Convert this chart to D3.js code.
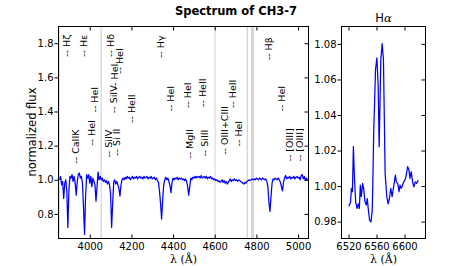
<!DOCTYPE html>
<html>
<head>
<meta charset="utf-8">
<script src="https://cdn.jsdelivr.net/npm/d3@7"></script>
<style>
	body { margin: 0; background: #fff; }
	svg { display: block; font-family: "DejaVu Sans", sans-serif; }
</style>
</head>
<body>
<svg id="chart" width="472" height="266"></svg>
<script>
// spectrum sampled every 5 A starting at 3855 A
const waveStart = 3855;
const waveStep = 5;
const flux = [
	1.00, 1.02, 0.97, 0.99, 0.89, 0.98, 1.00, 0.93, 0.72, 0.94, // 3855
	1.02, 1.01, 1.03, 0.99, 1.02, 0.98, 0.91, 0.99, 1.03, 1.04, // 3905
	1.01, 1.02, 0.98, 0.84, 0.68, 0.90, 1.03, 1.01, 1.03, 0.98, // 3955
	1.02, 0.96, 1.01, 0.99, 0.97, 0.875, 0.96, 1.045, 1.00, 1.02, // 4005
	1.00, 1.01, 0.99, 1.00, 0.985, 0.995, 0.975, 0.99, 0.97, 0.92, // 4055
	0.72, 0.86, 0.985, 1.00, 0.975, 0.99, 0.97, 0.95, 0.905, 0.97, // 4105
	1.00, 1.01, 1.00, 1.015, 1.005, 1.02, 1.01, 1.015, 1.00, 1.01, // 4155
	1.02, 1.005, 1.015, 1.01, 1.02, 1.005, 1.015, 1.02, 1.01, 1.015, // 4205
	1.005, 1.02, 1.01, 1.015, 1.02, 1.005, 1.015, 1.01, 1.02, 1.005, // 4255
	1.01, 1.015, 1.00, 1.01, 0.995, 0.985, 0.93, 0.86, 0.77, 0.88, // 4305
	0.97, 1.00, 1.015, 1.00, 1.01, 0.99, 0.965, 0.925, 0.985, 1.01, // 4355
	1.00, 1.01, 1.005, 1.015, 1.00, 1.01, 1.005, 1.01, 1.00, 1.005, // 4405
	0.995, 1.005, 0.99, 0.96, 0.91, 0.96, 1.01, 1.00, 1.015, 1.01, // 4455
	1.02, 1.01, 1.02, 1.015, 1.02, 1.01, 1.025, 1.01, 1.015, 1.02, // 4505
	1.01, 1.02, 1.005, 1.015, 1.01, 1.02, 1.005, 1.01, 1.00, 1.005, // 4555
	0.995, 1.00, 0.99, 0.995, 0.985, 0.99, 1.00, 0.985, 0.995, 0.98, // 4605
	0.99, 0.975, 0.985, 0.995, 1.005, 0.99, 1.00, 0.995, 1.005, 0.995, // 4655
	1.00, 0.99, 1.00, 0.995, 0.99, 0.985, 0.98, 0.975, 0.985, 0.98, // 4705
	0.99, 0.995, 1.00, 0.995, 1.00, 1.005, 1.00, 1.005, 1.00, 1.01, // 4755
	1.005, 1.00, 1.01, 1.005, 1.00, 1.01, 1.005, 1.00, 1.005, 0.99, // 4805
	0.96, 0.87, 0.815, 0.90, 0.98, 1.005, 1.00, 1.01, 1.005, 1.00, // 4855
	1.01, 1.00, 0.985, 0.96, 0.935, 0.985, 1.01, 1.025, 1.005, 1.015, // 4905
	1.01, 1.02, 1.005, 1.015, 1.01, 1.02, 1.005, 1.015, 1.02, 1.01, // 4955
	1.015, 1.00, 1.025, 1.03, 1.005, 1.02, 0.995, 1.01, 1.00 // 5005
];

// H-alpha zoom
const haWave = [6520.3, 6522.8, 6524.2, 6525.6, 6527.0, 6528.4, 6530.3, 6532.2, 6534.1, 6535.5,
	6536.9, 6538.3, 6540.2, 6541.6, 6543.6, 6545.4, 6546.8, 6548.3, 6550.1, 6552.1,
	6553.9, 6554.9, 6556.0, 6557.5, 6558.6, 6560.6, 6562.4, 6563.8, 6566.2, 6568.1,
	6569.9, 6571.3, 6572.3, 6574.7, 6576.6, 6578.4, 6580.4, 6582.3, 6583.7, 6585.5,
	6587.0, 6588.3, 6590.3, 6592.2, 6593.6, 6595.0, 6596.8, 6598.8, 6600.7, 6602.5,
	6604.5, 6606.3, 6607.8, 6609.6, 6611.6, 6613.4, 6615.3, 6617.3, 6619.5];
const haFlux = [0.9887, 0.9906, 0.9987, 0.9968, 1.0222, 1.0053, 0.991, 0.9874, 0.990, 0.9874,
	1.0006, 0.994, 1.0015, 0.9987, 0.991, 0.9893, 0.993, 0.9868, 0.9808, 0.9798,
	0.9864, 1.005, 1.030, 1.050, 1.0655, 1.0722, 1.0561, 1.0222, 1.0712, 1.0802,
	1.0712, 1.035, 1.0072, 0.994, 0.990, 0.993, 0.9987, 0.994, 0.9977, 1.0024,
	1.0062, 1.0024, 1.0015, 0.9968, 1.0006, 0.9987, 1.0, 1.0024, 1.0034, 1.0062,
	1.0109, 1.009, 1.0044, 1.0081, 1.0024, 0.9996, 1.0024, 1.0015, 1.0034];

// masked (grey) regions
const maskLo = [3850, 4052, 4599, 4753, 4774];
const maskHi = [3856, 4058, 4604, 4760, 4789];

// line identifications
const lineNames = ["H\u03b6", "H\u03b5", "CaIIK", "HeI", "HeI", "SiIV", "Si II", "H\u03b4", "SiIV", "HeI",
	"HeI", "HeII", "H\u03b3", "HeI", "HeI", "MgII", "HeII", "SiIII", "OIII+CIII", "HeII",
	"HeI", "H\u03b2", "HeI", "[OIII]", "[OIII]"];
const lineWaves = [3889, 3970, 3934, 4009, 4026, 4089, 4131, 4102, 4116, 4121,
	4143, 4200, 4340, 4388, 4471, 4481, 4542, 4552, 4650, 4686,
	4713, 4861, 4922, 4959, 5007];
const lineLevels = [1.72, 1.72, 1.094, 1.199, 1.394, 1.13, 1.14, 1.72, 1.39, 1.53,
	1.62, 1.333, 1.713, 1.40, 1.42, 1.123, 1.427, 1.136, 1.146, 1.42,
	1.195, 1.70, 1.40, 1.107, 1.107];

const mainXTicks = [4000, 4200, 4400, 4600, 4800, 5000];
const mainYTicks = [0.8, 1.0, 1.2, 1.4, 1.6, 1.8];
const haXTicks = [6520, 6560, 6600];
const haYTicks = [0.98, 1.00, 1.02, 1.04, 1.06, 1.08];

const svg = d3.select("#chart");

const x = d3.scaleLinear().domain([3850, 5050]).range([58.5, 308.5]);
const y = d3.scaleLinear().domain([0.656, 1.898]).range([238.5, 26.5]);
const hx = d3.scaleLinear().domain([6510, 6630]).range([341.5, 425.5]);
const hy = d3.scaleLinear().domain([0.9705, 1.0898]).range([238.5, 26.5]);

function panel(id, xs, ys, xt, yt, yfmt) {
	const g = svg.append("g");
	const [x0, x1] = xs.range();
	const [y1, y0] = ys.range();

	svg.append("clipPath").attr("id", id)
		.append("rect").attr("x", x0).attr("y", y0).attr("width", x1 - x0).attr("height", y1 - y0);

	const plot = g.append("g").attr("clip-path", `url(#${id})`);

	const axes = g.append("g").attr("font-size", 7.7);
	// left ticks point out, the other sides point in
	axes.append("g").attr("transform", `translate(${x0},0)`)
		.call(d3.axisLeft(ys).tickValues(yt).tickFormat(yfmt).tickSize(4).tickPadding(1).tickSizeOuter(0));
	axes.append("g").attr("transform", `translate(${x1},0)`)
		.call(d3.axisRight(ys).tickValues(yt).tickFormat("").tickSize(-4).tickSizeOuter(0));
	axes.append("g").attr("transform", `translate(0,${y1})`)
		.call(d3.axisBottom(xs).tickValues(xt).tickFormat(d3.format("d")).tickSize(-4).tickPadding(4).tickSizeOuter(0));
	axes.append("g").attr("transform", `translate(0,${y0})`)
		.call(d3.axisTop(xs).tickValues(xt).tickFormat("").tickSize(-4).tickSizeOuter(0));
	axes.selectAll(".domain").remove();
	axes.selectAll("text").attr("font-family", "DejaVu Sans").attr("fill", "#000");

	g.append("rect").attr("x", x0).attr("y", y0).attr("width", x1 - x0).attr("height", y1 - y0)
		.attr("fill", "none").attr("stroke", "#000").attr("stroke-width", 1);
	return plot;
}

// main spectrum
const mainPlot = panel("clipMain", x, y, mainXTicks, mainYTicks, d3.format(".1f"));

mainPlot.selectAll("rect.mask")
	.data(maskLo)
	.join("rect")
	.attr("class", "mask")
	.attr("x", (d) => x(d))
	.attr("y", 26.5)
	.attr("width", (d, i) => x(maskHi[i]) - x(d))
	.attr("height", 212)
	.attr("fill", "#c8c8c8")
	.attr("opacity", 0.75);

const mainLine = d3.line()
	.x((d, i) => x(waveStart + i * waveStep))
	.y((d) => y(d));

mainPlot.append("path")
	.datum(flux)
	.attr("d", mainLine)
	.attr("fill", "none")
	.attr("stroke", "#0000ff")
	.attr("stroke-width", 1.25)
	.attr("stroke-linejoin", "round");

svg.append("g")
	.selectAll("text")
	.data(lineNames)
	.join("text")
	.attr("transform", (d, i) => `translate(${x(lineWaves[i])},${y(lineLevels[i])}) rotate(-90)`)
	.attr("dy", "0.35em")
	.attr("font-size", 9.5)
	.text((d) => "-- " + d);

// H-alpha panel
const haPlot = panel("clipHa", hx, hy, haXTicks, haYTicks, d3.format(".2f"));

haPlot.append("path")
	.datum(haFlux)
	.attr("d", d3.line().x((d, i) => hx(haWave[i])).y((d) => hy(d)))
	.attr("fill", "none")
	.attr("stroke", "#0000ff")
	.attr("stroke-width", 1.25)
	.attr("stroke-linejoin", "round");

// titles and axis labels
svg.append("text")
	.attr("x", 236).attr("y", 15)
	.attr("text-anchor", "middle")
	.attr("font-size", 11.5)
	.attr("font-weight", "bold")
	.text("Spectrum of CH3-7");

const haTitle = svg.append("text")
	.attr("x", 383.5).attr("y", 22)
	.attr("text-anchor", "middle")
	.attr("font-size", 11.5);
haTitle.append("tspan").text("H");
haTitle.append("tspan").attr("font-family", "DejaVu Serif").attr("font-style", "italic").text("\u03b1");

svg.append("text")
	.attr("transform", "translate(36,132) rotate(-90)")
	.attr("text-anchor", "middle")
	.attr("font-size", 11.5)
	.text("normalized flux");

[183.5, 383.5].forEach((cx) => {
	svg.append("text")
		.attr("x", cx).attr("y", 263)
		.attr("text-anchor", "middle")
		.attr("font-family", "DejaVu Serif")
		.attr("font-size", 11)
		.text("\u03bb (\u00c5)");
});
</script>
</body>
</html>
